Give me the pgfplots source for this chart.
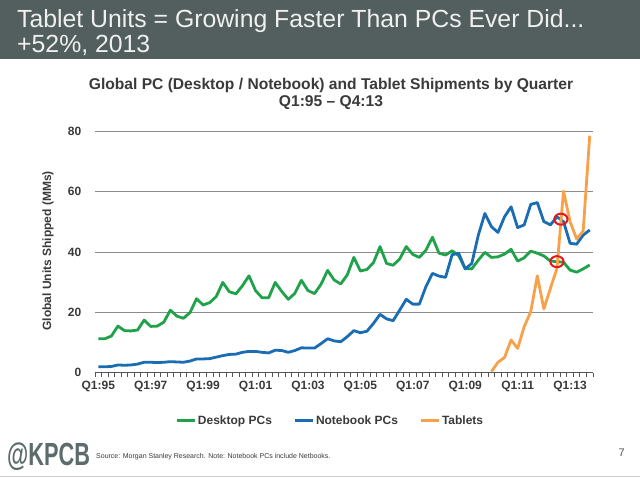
\documentclass[border=0pt]{standalone}
\usepackage{fontspec}
\setmainfont{Liberation Sans}
\usepackage{pgfplots}
\usepackage{pgfplotstable}
\pgfplotsset{compat=1.18}
\definecolor{titlebar}{HTML}{525F5E}
\definecolor{desk}{HTML}{1FA24A}
\definecolor{note}{HTML}{1B6DB3}
\definecolor{tab}{HTML}{F7A24B}
\definecolor{txt}{HTML}{3A3A3A}
\definecolor{ringred}{HTML}{E3191F}
\definecolor{kpcb}{HTML}{5C6B6B}
\definecolor{gridgray}{HTML}{8C8C8C}
\definecolor{axisgray}{HTML}{555555}

\pgfplotstableread{
x y
0 11.2
1 11.2
2 12.1
3 15.4
4 13.9
5 13.8
6 14.1
7 17.4
8 15.3
9 15.4
10 16.7
11 20.7
12 18.7
13 18.0
14 19.9
15 24.5
16 22.4
17 23.2
18 25.2
19 29.9
20 26.8
21 26.1
22 28.8
23 32.1
24 27.2
25 24.8
26 24.8
27 29.9
28 26.9
29 24.3
30 26.3
31 30.6
32 27.2
33 26.2
34 29.3
35 33.9
36 30.7
37 29.4
38 32.4
39 38.2
40 33.7
41 34.2
42 36.5
43 41.8
44 36.2
45 35.6
46 37.7
47 41.8
48 39.2
49 38.2
50 40.6
51 44.9
52 39.6
53 39.0
54 40.4
55 38.8
56 34.5
57 34.4
58 37.3
59 39.9
60 38.2
61 38.4
62 39.3
63 40.9
64 37.0
65 38.1
66 40.3
67 39.6
68 38.7
69 37.0
70 36.8
71 36.6
72 34.0
73 33.3
74 34.4
75 35.7
}\desktop

\pgfplotstableread{
x y
0 1.9
1 1.9
2 2.0
3 2.5
4 2.4
5 2.5
6 2.8
7 3.4
8 3.4
9 3.3
10 3.4
11 3.6
12 3.5
13 3.4
14 3.8
15 4.5
16 4.5
17 4.6
18 5.1
19 5.6
20 6.0
21 6.1
22 6.7
23 7.0
24 7.0
25 6.7
26 6.5
27 7.4
28 7.3
29 6.7
30 7.3
31 8.2
32 8.1
33 8.1
34 9.6
35 11.2
36 10.5
37 10.2
38 11.9
39 13.9
40 13.2
41 13.7
42 16.3
43 19.3
44 17.8
45 17.2
46 20.7
47 24.3
48 22.7
49 22.7
50 28.5
51 32.9
52 32.0
53 31.6
54 39.1
55 39.6
56 34.4
57 36.2
58 45.6
59 52.8
60 48.4
61 46.5
62 51.7
63 55.0
64 48.1
65 49.0
66 55.8
67 56.4
68 50.1
69 49.0
70 51.7
71 50.1
72 42.9
73 42.6
74 45.6
75 47.3
}\notebook

\pgfplotstableread{
x y
60 0.3
61 3.4
62 5.0
63 10.8
64 8.0
65 15.2
66 20.2
67 32.1
68 21.1
69 27.9
70 34.6
71 60.2
72 50.1
73 44.3
74 47.0
75 78.6
}\tablets

\begin{document}
\begin{tikzpicture}
\path[use as bounding box] (0,0) rectangle (640pt,-478pt);
\fill[white] (0,0) rectangle (640pt,-478pt);
\fill[titlebar] (0,0) rectangle (640pt,-59pt);
\node[anchor=base west, inner sep=0, text=white!94!black, font=\fontsize{24.8}{29}\selectfont] at (17pt,-28pt) {Tablet Units = Growing Faster Than PCs Ever Did...};
\node[anchor=base west, inner sep=0, text=white!94!black, font=\fontsize{24.8}{29}\selectfont] at (17pt,-53pt) {+52\%, 2013};
\node[anchor=base, inner sep=0, text=txt, font=\fontsize{15.6}{18}\selectfont\bfseries] at (331pt,-89.5pt) {Global PC (Desktop / Notebook) and Tablet Shipments by Quarter};
\node[anchor=base, inner sep=0, text=txt, font=\fontsize{15.6}{18}\selectfont\bfseries] at (331pt,-106.5pt) {Q1:95 – Q4:13};
\node[rotate=90, inner sep=0, text=txt, font=\fontsize{12}{14}\selectfont\bfseries] at (48pt,-251pt) {Global Units Shipped (MMs)};

\begin{axis}[
  at={(95pt,-372.5pt)}, anchor=south west,
  scale only axis, width=498pt, height=241pt,
  xmin=-0.5, xmax=75.5, ymin=0, ymax=80,
  axis x line*=bottom, axis y line*=left,
  y axis line style={draw=none},
  x axis line style={draw=axisgray, line width=1pt, -},
  ytick={0,20,40,60,80},
  ymajorgrids, grid style={draw=gridgray, line width=0.8pt},
  ytick style={draw=none},
  xtick={0,8,...,72},
  xticklabels={Q1:95,Q1:97,Q1:99,Q1:01,Q1:03,Q1:05,Q1:07,Q1:09,Q1:11,Q1:13},
  major x tick style={draw=none},
  minor xtick={-0.5,0.5,...,75.5},
  minor x tick style={draw=axisgray, line width=0.8pt},
  minor tick length=4pt,
  tick align=outside,
  ticklabel style={font=\fontsize{12}{14}\selectfont\bfseries, text=txt},
  /pgf/number format/assume math mode=true,
  yticklabel style={xshift=-6pt},
  xticklabel style={yshift=-1pt},
  legend image code/.code={\draw[#1, line width=3pt] (0pt,0pt) -- (18pt,0pt);},
  legend style={at={(0.472,-0.201)}, anchor=center, draw=none, fill=none,
    legend columns=3, font=\fontsize{12}{14}\selectfont\bfseries, text=txt,
    /tikz/every even column/.append style={column sep=20pt},
    nodes={inner xsep=1.5pt, inner ysep=1pt}},
]
\addplot[desk, line width=2.8pt, line join=round] table[x=x,y=y] {\desktop};
\addplot[note, line width=2.8pt, line join=round] table[x=x,y=y] {\notebook};
\addplot[tab, line width=2.8pt, line join=round] table[x=x,y=y] {\tablets};
\addplot[only marks, mark=o, mark size=5.5pt, mark options={ringred, line width=2pt, xscale=1.2}, forget plot] coordinates {(70.6,50.9) (70.0,36.8)};
\legend{Desktop PCs, Notebook PCs, Tablets}
\end{axis}

\node[anchor=base west, inner sep=0, text=kpcb, font=\fontsize{32}{36}\selectfont\bfseries] at (7pt,-465pt) {\scalebox{0.68}[1]{@KPCB}};
\node[anchor=base west, inner sep=0, text=txt, font=\fontsize{7}{8}\selectfont] at (96pt,-458pt) {Source: Morgan Stanley Research. Note: Notebook PCs include Netbooks.};
\node[anchor=base east, inner sep=0, text=axisgray, font=\fontsize{11}{13}\selectfont] at (625pt,-456pt) {7};
\draw[black!20, line width=1.5pt] (0,-476.5pt) -- (640pt,-476.5pt);
\end{tikzpicture}
\end{document}
